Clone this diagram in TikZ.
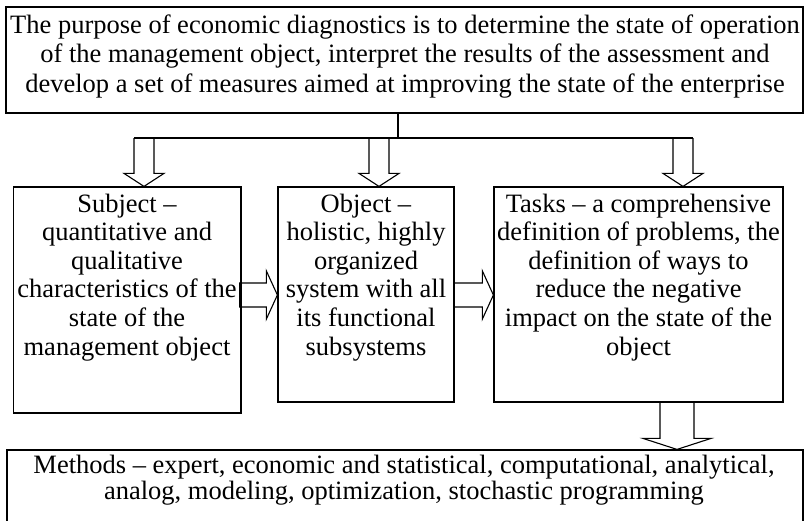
\documentclass[tikz,border=0pt]{standalone}
\usepackage{fontspec}
\setmainfont{Liberation Serif}
\usetikzlibrary{calc}
\begin{document}
\begin{tikzpicture}[x=1pt,y=-1pt,
  box/.style={draw, line width=1.2pt, inner sep=0pt},
  txt/.style={align=center, inner sep=0pt, anchor=base},
  big/.style={font=\fontsize{26.5}{29.5}\selectfont},
  mid/.style={font=\fontsize{26.5}{28.6}\selectfont},
  low/.style={font=\fontsize{26.5}{25.5}\selectfont},
  conn/.style={draw, line width=1.1pt, line join=miter},
]
\clip (0,0) rectangle (804,520);
% boxes
\node[box, minimum width=797pt, minimum height=106pt] (goal) at (404.5,60) {};
\node[box, minimum width=227.5pt, minimum height=226pt] (subj) at (127.25,300) {};
\node[box, minimum width=176pt, minimum height=215pt] (obj) at (366,294.5) {};
\node[box, minimum width=289pt, minimum height=215pt] (tasks) at (638.5,294.5) {};
\node[box, minimum width=796pt, minimum height=90pt] (meth) at (405,495) {};
% texts (anchor base = baseline of last line)
\node[txt, big] (goaltxt) at (405,92) {The purpose of economic diagnostics is to determine the state of operation\\
of the management object, interpret the results of the assessment and\\
develop a set of measures aimed at improving the state of the enterprise};
\node[txt, mid] (subjtxt) at (127,355) {Subject --\\quantitative and\\qualitative\\characteristics of the\\state of the\\management object};
\node[txt, mid] (objtxt) at (366,355) {Object --\\holistic, highly\\organized\\system with all\\its functional\\subsystems};
\node[txt, mid] (taskstxt) at (638.5,355) {Tasks -- a comprehensive\\definition of problems, the\\definition of ways to\\reduce the negative\\impact on the state of the\\object};
\node[txt, low] (methtxt) at (404,499) {Methods -- expert, economic and statistical, computational, analytical,\\analog, modeling, optimization, stochastic programming};
% bus
\coordinate (bus) at (398,138);
\coordinate (b1) at (144,138);
\coordinate (b2) at (379,138);
\coordinate (b3) at (683,138);
\draw[conn] (goal.south -| bus) -- (bus);
\draw[conn] ($(b1)+(-10,0)$) -- ($(b3)+(10,0)$);
% down block arrows
\foreach \b/\t in {b1/subj,b2/obj,b3/tasks}{
  \draw[conn] ($(\b)+(-10,0)$) -- ($(\t.north -| \b)+(-10,-13)$) -- ($(\t.north -| \b)+(-20,-13)$)
    -- (\t.north -| \b) -- ($(\t.north -| \b)+(20,-13)$) -- ($(\t.north -| \b)+(10,-13)$) -- ($(\b)+(10,0)$);
}
% horizontal block arrows
\coordinate (h) at (0,295);
\draw[conn] ($(subj.east |- h)+(-2,-12)$) -- ($(obj.west |- h)+(-11,-12)$) -- ($(obj.west |- h)+(-11,-24)$)
  -- (obj.west |- h) -- ($(obj.west |- h)+(-11,24)$) -- ($(obj.west |- h)+(-11,12)$) -- ($(subj.east |- h)+(-2,12)$) -- cycle;
\draw[conn] ($(obj.east |- h)+(0,-12)$) -- ($(tasks.west |- h)+(-11,-12)$) -- ($(tasks.west |- h)+(-11,-24)$)
  -- (tasks.west |- h) -- ($(tasks.west |- h)+(-11,24)$) -- ($(tasks.west |- h)+(-11,12)$) -- ($(obj.east |- h)+(0,12)$);
% bottom block arrow
\coordinate (v) at (677,0);
\draw[conn] ($(tasks.south -| v)+(-17,0)$) -- ($(meth.north -| v)+(-17,-11)$) -- ($(meth.north -| v)+(-34,-11)$)
  -- (meth.north -| v) -- ($(meth.north -| v)+(34,-11)$) -- ($(meth.north -| v)+(17,-11)$) -- ($(tasks.south -| v)+(17,0)$);
\end{tikzpicture}
\end{document}
